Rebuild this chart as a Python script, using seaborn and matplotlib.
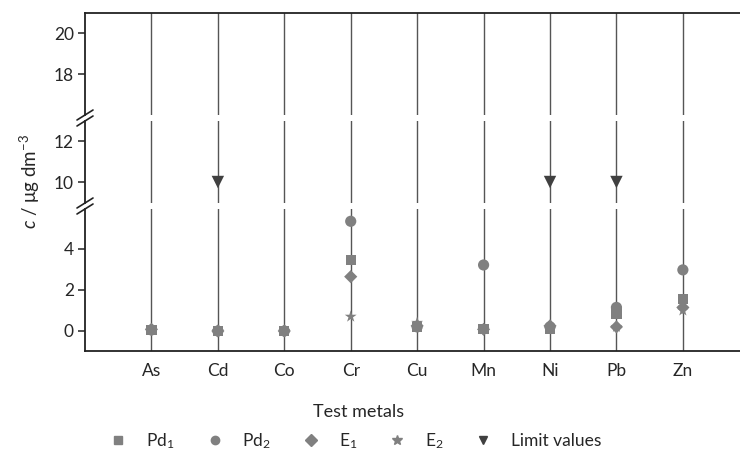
import numpy as np
import pandas as pd
import seaborn as sns
import matplotlib.pyplot as plt
from matplotlib.lines import Line2D

sns.set_style("white")
plt.rcParams["font.family"] = ["Lato", "DejaVu Sans"]
plt.rcParams["mathtext.fontset"] = "custom"
plt.rcParams["mathtext.rm"] = "Lato"
plt.rcParams["mathtext.it"] = "Lato:italic"

# Data, µg/dm3
metals = ["As", "Cd", "Co", "Cr", "Cu", "Mn", "Ni", "Pb", "Zn"]
pd1 = [0.05, 0.0, 0.0, 3.45, 0.2, 0.08, 0.1, 0.85, 1.55]
pd2 = [0.05, 0.0, 0.0, 5.35, 0.2, 3.22, 0.2, 1.15, 2.98]
e1 = [0.08, 0.0, 0.0, 2.65, 0.25, 0.08, 0.25, 0.2, 1.15]
e2 = [0.05, 0.0, 0.0, 0.7, 0.4, 0.08, 0.1, 0.2, 1.0]
limits = [np.nan, 10, np.nan, np.nan, np.nan, np.nan, 10, 10, np.nan]

series = [
    ("Pd$_1$", pd1, "s", 55, "#808080"),
    ("Pd$_2$", pd2, "o", 65, "#808080"),
    ("E$_1$", e1, "D", 45, "#808080"),
    ("E$_2$", e2, "*", 80, "#808080"),
    ("Limit values", limits, "v", 80, "#404040"),
]

W, H = 740, 454
fig = plt.figure(figsize=(W / 100, H / 100), dpi=100)
left, right = 85, 740


def box(top, bottom):
    return [left / W, 1 - bottom / H, (right - left) / W, (bottom - top) / H]


ax_b = fig.add_axes(box(209, 351))
ax_m = fig.add_axes(box(121, 203), sharex=ax_b)
ax_t = fig.add_axes(box(13, 115), sharex=ax_b)

ylims = {ax_t: (16.0, 20.976), ax_m: (8.976, 12.976), ax_b: (-0.976, 5.95)}
yticks = {ax_t: [18, 20], ax_m: [10, 12], ax_b: [0, 2, 4]}

for ax in (ax_t, ax_m, ax_b):
    ax.vlines(metals, -5, 30, color="#555555", lw=1.0, zorder=1)
    for name, vals, mk, s, col in series:
        sns.scatterplot(x=metals, y=vals, marker=mk, s=s, color=col,
                        edgecolor="none", ax=ax, zorder=3, legend=False)
    ax.set_ylim(*ylims[ax])
    ax.set_yticks(yticks[ax])
    ax.set_xlim(-1.0, 8.86)
    for sp in ("top", "bottom", "right"):
        ax.spines[sp].set_visible(False)
    ax.spines["left"].set_linewidth(1.3)
    ax.spines["left"].set_color("#222222")
    ax.tick_params(axis="y", direction="out", length=5, width=1.1,
                   color="#222222", labelsize=12.5, pad=3, left=True)
    ax.set_ylabel("")

ax_t.spines["top"].set_visible(True)
ax_t.spines["top"].set_linewidth(1.3)
ax_t.spines["top"].set_color("#222222")
ax_b.spines["bottom"].set_visible(True)
ax_b.spines["bottom"].set_linewidth(1.3)
ax_b.spines["bottom"].set_color("#222222")
for ax in (ax_t, ax_m):
    ax.tick_params(axis="x", bottom=False, labelbottom=False)
ax_b.tick_params(axis="x", length=0, labelsize=12.5, pad=9)

ax_b.set_xlabel("Test metals", fontsize=13)
ax_b.xaxis.set_label_coords((359 - left) / (right - left), -0.37)

fig.text(30 / W, 1 - 182 / H, "$c$ / μg dm$^{-3}$", rotation=90,
         ha="center", va="center", fontsize=13.5)

# break marks on the left spine
for gap_top, gap_bot in ((115, 121), (203, 209)):
    for yy in (gap_top, gap_bot):
        fig.add_artist(Line2D([(left - 8) / W, (left + 8) / W],
                              [1 - (yy + 5) / H, 1 - (yy - 5) / H],
                              transform=fig.transFigure, color="#222222", lw=1.2))

handles = [Line2D([], [], marker=mk, ls="", color=col, markersize=6 if mk != "*" else 7)
           for name, vals, mk, s, col in series]
labels = [s[0] for s in series]
fig.legend(handles, labels, loc="center left", bbox_to_anchor=(94 / W, 1 - 441 / H),
           ncol=5, frameon=False, fontsize=12.5, handlelength=1.0,
           handletextpad=1.1, columnspacing=1.8)

fig.savefig("out.png", dpi=100)
